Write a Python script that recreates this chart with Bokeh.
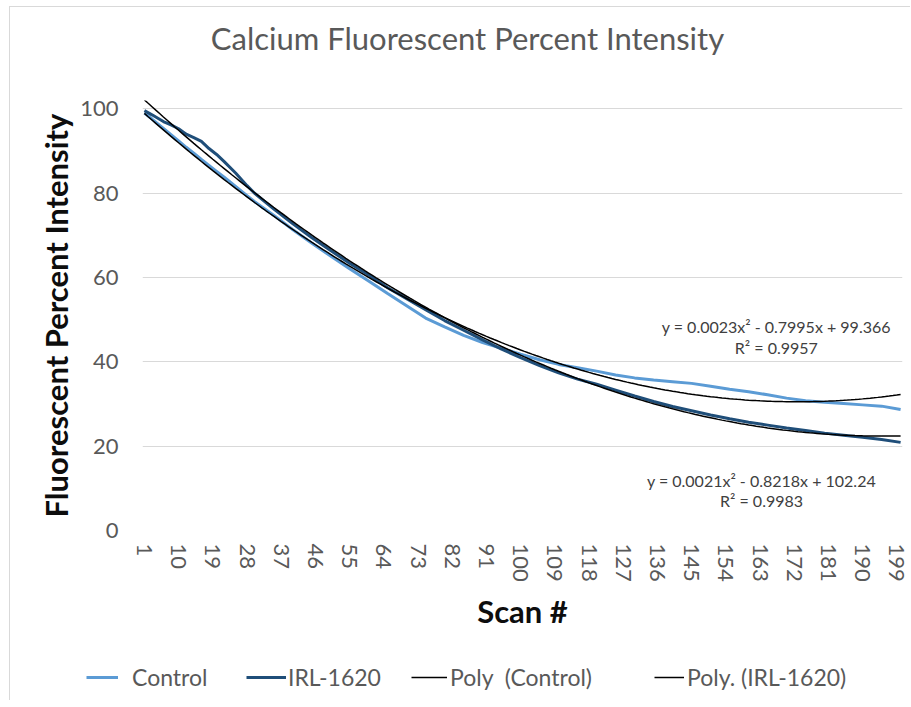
import numpy as np
from bokeh.plotting import figure
from bokeh.layouts import column
from bokeh.models import Label, Legend, LegendItem, FixedTicker
from bokeh.embed import file_html
from bokeh.resources import INLINE

# ---- data ----
scans = [1, 3, 6, 8, 10, 12, 14, 16, 18, 20, 22, 25, 28, 30,
         35, 40, 45, 50, 55, 60, 65, 70, 75, 80,
         85, 90, 95, 100, 105, 110, 115, 120, 125, 130,
         135, 140, 145, 150, 155, 160, 165, 170, 175, 180,
         185, 190, 195, 200]
control = [99.0, 97.6, 95.4, 93.9, 92.4, 90.9, 89.5, 88.0, 86.6, 85.2, 83.8, 81.6, 79.4, 78.0,
           74.8, 71.4, 68.2, 65.1, 62.1, 59.2, 56.2, 53.3, 50.4, 48.3,
           46.3, 44.6, 43.2, 41.8, 40.5, 39.4, 38.6, 37.8, 36.9, 36.2,
           35.7, 35.3, 34.9, 34.2, 33.5, 32.9, 32.2, 31.4, 30.8, 30.4,
           30.1, 29.8, 29.5, 28.7]
irl1620 = [99.6, 98.6, 97.0, 96.2, 95.3, 94.0, 93.2, 92.3, 90.6, 89.2, 87.5, 84.8, 81.8, 80.0,
           76.3, 72.8, 69.5, 66.4, 63.4, 60.6, 57.6, 55.0, 52.4, 49.8,
           47.5, 45.2, 43.0, 41.0, 39.1, 37.4, 35.9, 34.7, 33.3, 31.9,
           30.6, 29.4, 28.4, 27.4, 26.5, 25.7, 25.0, 24.3, 23.7, 23.1,
           22.6, 22.1, 21.6, 20.9]
x_ticks = [1, 10, 19, 28, 37, 46, 55, 64, 73, 82, 91, 100, 109, 118, 127,
           136, 145, 154, 163, 172, 181, 190, 199]
y_ticks = [0, 20, 40, 60, 80, 100]
title_text = "Calcium Fluorescent Percent Intensity"
eq_control = ["y = 0.0023x\u00b2 - 0.7995x + 99.366", "R\u00b2 = 0.9957"]
eq_irl = ["y = 0.0021x\u00b2 - 0.8218x + 102.24", "R\u00b2 = 0.9983"]
series_names = ["Control", "IRL-1620", "Poly  (Control)", "Poly. (IRL-1620)"]
series_colors = ["#5B9BD5", "#1F4E79", "black", "black"]
series_widths = [3, 3, 1.5, 1.5]

# polynomial (order 2) trendlines, as the spreadsheet computes them
all_scans = np.arange(scans[0], scans[-1] + 1)
trend_c = np.polyval(np.polyfit(scans, control, 2), all_scans)
trend_i = np.polyval(np.polyfit(scans, irl1620, 2), all_scans)

FONT = "Lato"
GRAY = "#595959"
W = 900          # content starts 10px in (9px margin + 1px chart border)


def blank(height):
    f = figure(width=W, height=height, x_range=(0, 1), y_range=(0, 1),
               output_backend="svg", toolbar_location=None,
               x_axis_location=None, y_axis_location=None, min_border=0,
               frame_align=False)
    f.grid.visible = False
    f.outline_line_color = None
    f.background_fill_color = "white"
    f.border_fill_color = "white"
    return f


# ---- title strip ----
pt = blank(85)
pt.add_layout(Label(x=457, y=55, x_units="screen", y_units="screen", text=title_text,
                    text_align="center", text_baseline="middle", text_font=FONT,
                    text_font_size="31px", text_color=GRAY))

# ---- main chart ----
p = figure(width=W, height=548, x_range=(0.5, 200.5), y_range=(0, 102),
           output_backend="svg", toolbar_location=None, frame_align=False,
           min_border_left=132, min_border_right=8, min_border_top=8, min_border_bottom=110)
p.outline_line_color = None
p.background_fill_color = "white"
p.border_fill_color = "white"

p.line(scans, control, line_color=series_colors[0], line_width=series_widths[0])
p.line(scans, irl1620, line_color=series_colors[1], line_width=series_widths[1])
p.line(all_scans, trend_c, line_color=series_colors[2], line_width=series_widths[2])
p.line(all_scans, trend_i, line_color=series_colors[3], line_width=series_widths[3])

p.xgrid.visible = False
p.ygrid.grid_line_color = "#d9d9d9"
p.ygrid.grid_line_width = 1
p.yaxis.ticker = FixedTicker(ticks=y_ticks)
p.xaxis.ticker = FixedTicker(ticks=x_ticks)
for ax in (p.xaxis[0], p.yaxis[0]):
    ax.axis_line_color = None
    ax.major_tick_line_color = None
    ax.minor_tick_line_color = None
    ax.major_label_text_font = FONT
    ax.major_label_text_font_size = "22px"
    ax.major_label_text_color = GRAY
    ax.axis_label_text_font = FONT
    ax.axis_label_text_font_style = "bold"
    ax.axis_label_text_font_size = "31px"
    ax.axis_label_text_color = "#0d0d0d"
p.xaxis.major_label_orientation = "vertical"
p.xaxis.major_label_standoff = 7
p.yaxis.major_label_standoff = 18
p.yaxis.axis_label = "Fluorescent Percent Intensity"
p.xaxis.axis_label = "Scan #"
p.yaxis.axis_label_standoff = 2
p.xaxis.axis_label_standoff = 7

for txt, yy in zip(eq_control, (48.3, 43.4)):
    p.add_layout(Label(x=167.3, y=yy, text=txt, text_align="center", text_baseline="middle",
                       text_font=FONT, text_font_size="16px", text_color="#404040"))
for txt, yy in zip(eq_irl, (11.9, 7.1)):
    p.add_layout(Label(x=163.4, y=yy, text=txt, text_align="center", text_baseline="middle",
                       text_font=FONT, text_font_size="16px", text_color="#404040"))

# ---- legend strip ----
lg = blank(60)
specs = [(76, 32, 14), (236, 40, 2), (401, 36, 3), (644, 30, 3)]
for name, col, w, (vx, gw, st) in zip(series_names, series_colors, series_widths, specs):
    r = lg.line([-2, -1], [-2, -1], line_color=col, line_width=w)
    leg = Legend(items=[LegendItem(label=name, renderers=[r])], location=(vx, 9),
                 orientation="horizontal", glyph_width=gw, label_standoff=st,
                 padding=0, margin=0, border_line_color=None, background_fill_alpha=0,
                 label_text_font=FONT, label_text_font_size="23px", label_text_color=GRAY)
    lg.add_layout(leg, "center")

layout = column(pt, p, lg, spacing=0, margin=(6, 0, 0, 9),
                styles={"border-left": "1px solid #d9d9d9", "border-top": "1px solid #d9d9d9"})
open("out.html", "w").write(file_html(layout, INLINE))
